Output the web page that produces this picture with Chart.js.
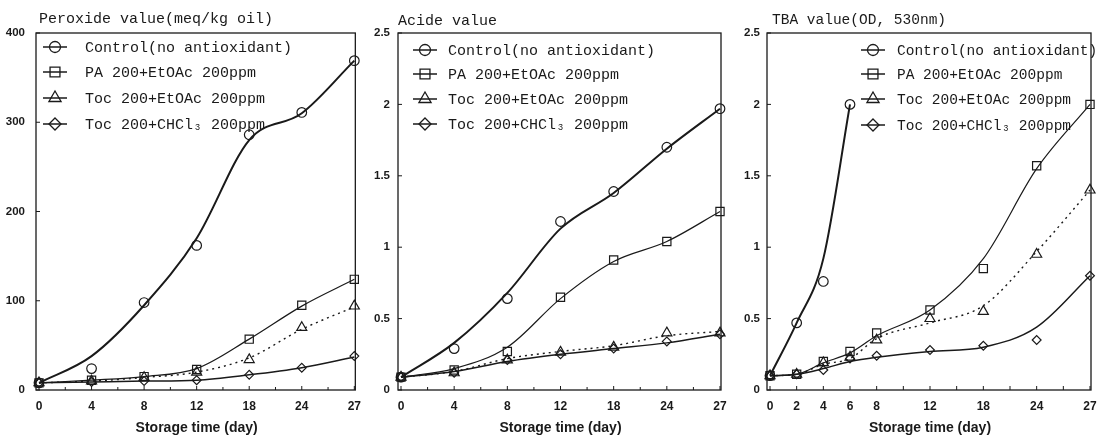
<!DOCTYPE html>
<html><head><meta charset="utf-8">
<style>
html,body{margin:0;padding:0;background:#fff;width:1109px;height:435px;overflow:hidden}
canvas{position:absolute;top:0}
</style>
<script src="https://cdn.jsdelivr.net/npm/chart.js@4.4.1/dist/chart.umd.min.js"></script>
</head><body>
<canvas id="c1" width="370" height="435" style="left:0px"></canvas>
<canvas id="c2" width="370" height="435" style="left:370px"></canvas>
<canvas id="c3" width="369" height="435" style="left:740px"></canvas>
<script>
// ---------- data ----------
const seriesNames = ['Control(no antioxidant)', 'PA 200+EtOAc 200ppm', 'Toc 200+EtOAc 200ppm', 'Toc 200+CHCl\u2083 200ppm'];
const xTitle = 'Storage time (day)';

// Panel 1: Peroxide value
const pvTitle = 'Peroxide value(meq/kg oil)';
const pvTickLabels = ['0','4','8','12','18','24','27'];
const pvDays = [0,4,8,12,18,24,27];
const pvControl    = [8,24,98,162,286,311,369];
const pvControlFit = [8,38,95,170,280,310,369];
const pvPA         = [8,11,15,23,57,95,124];
const pvPAFit      = [8,11,15,24,57,94,124];
const pvTocE       = [8,10,14,20,34,70,94];
const pvTocEFit    = [8,10,14,20,36,68,93];
const pvTocC       = [8,9,10,11,17,25,38];
const pvTocCFit    = [8,9,10,11,17,25,37];

// Panel 2: Acide value
const avTitle = 'Acide value';
const avTickLabels = ['0','4','8','12','18','24','27'];
const avDays = [0,4,8,12,18,24,27];
const avControl    = [0.09,0.29,0.64,1.18,1.39,1.70,1.97];
const avControlFit = [0.09,0.33,0.68,1.13,1.38,1.69,1.97];
const avPA         = [0.09,0.14,0.27,0.65,0.91,1.04,1.25];
const avPAFit      = [0.09,0.15,0.30,0.64,0.90,1.04,1.25];
const avTocE       = [0.09,0.12,0.21,0.265,0.30,0.40,0.40];
const avTocEFit    = [0.09,0.13,0.22,0.27,0.31,0.38,0.41];
const avTocC       = [0.09,0.12,0.21,0.25,0.29,0.34,0.39];
const avTocCFit    = [0.09,0.13,0.20,0.25,0.29,0.33,0.39];

// Panel 3: TBA value
const tbaTitle = 'TBA value(OD, 530nm)';
const tbaTickLabels = ['0','2','4','6','8','','12','','18','','24','','27'];
const tbaDays = [0,2,4,6,8,12,18,24,27];
const tbaControlDays = [0,2,4,6];
const tbaControl    = [0.10,0.47,0.76,2.00];
const tbaControlFit = [0.10,0.47,0.92,2.00];
const tbaPA         = [0.10,0.11,0.20,0.27,0.40,0.56,0.85,1.57,2.00];
const tbaPAFit      = [0.10,0.11,0.19,0.26,0.38,0.56,0.92,1.55,2.00];
const tbaTocE       = [0.10,0.11,0.19,0.23,0.35,0.50,0.55,0.95,1.40];
const tbaTocEFit    = [0.10,0.11,0.18,0.22,0.36,0.47,0.59,0.97,1.40];
const tbaTocC       = [0.10,0.11,0.14,0.22,0.24,0.28,0.31,0.35,0.80];
const tbaTocCFit    = [0.10,0.11,0.15,0.20,0.23,0.27,0.30,0.44,0.80];

// ---------- styling ----------
const ink = '#1a1a1a';
const styles = [
  {ps:'circle',   r:4.8, lr:5.5, lw:2.0, dash:[]},
  {ps:'rect',     r:5.8, lr:7.0, lw:1.2, dash:[]},
  {ps:'triangle', r:5.8, lr:7.0, lw:1.4, dash:[2,4]},
  {ps:'rectRot',  r:4.4, lr:6.0, lw:1.5, dash:[]}
];

function pts(days, vals){ return days.map((d,i)=>({x:String(d), y:vals[i]})); }

function buildDatasets(series){
  const ds = [];
  series.forEach((s,k)=>{
    const st = styles[k];
    ds.push({data:pts(s.days,s.fit), borderColor:ink, borderWidth:st.lw, borderDash:st.dash,
      pointRadius:0, pointHoverRadius:0, cubicInterpolationMode:'monotone', fill:false, clip:10});
    ds.push({data:pts(s.days,s.marks), showLine:false, pointStyle:st.ps, pointRadius:st.r,
      pointBorderWidth:1.2, pointBorderColor:ink, pointBackgroundColor:'rgba(255,255,255,0)', clip:10});
  });
  return ds;
}

function drawMarker(ctx, ps, x, y, r){
  ctx.beginPath();
  if (ps==='circle') ctx.arc(x,y,r,0,Math.PI*2);
  else if (ps==='rect'){ const s=r*Math.SQRT1_2; ctx.rect(x-s,y-s,2*s,2*s); }
  else if (ps==='triangle'){ ctx.moveTo(x,y-r); ctx.lineTo(x+r*0.866,y+r*0.5); ctx.lineTo(x-r*0.866,y+r*0.5); ctx.closePath(); }
  else { ctx.moveTo(x,y-r); ctx.lineTo(x+r,y); ctx.lineTo(x,y+r); ctx.lineTo(x-r,y); ctx.closePath(); }
  ctx.stroke();
}

function decorPlugin(p){
  return {
    id:'decor',
    afterDraw(chart){
      const ctx = chart.ctx, a = chart.chartArea;
      const xs = chart.scales.x, ys = chart.scales.y;
      ctx.save();
      ctx.strokeStyle = ink; ctx.fillStyle = ink;
      // frame
      ctx.lineWidth = 1.3;
      ctx.strokeRect(a.left - 3, a.top, a.right + 1 - (a.left - 3), a.bottom - a.top);
      // inside ticks x
      ctx.lineWidth = 1;
      const n = chart.data.labels.length;
      for (let i=0;i<n;i++){
        const px = xs.getPixelForValue(i);
        ctx.beginPath(); ctx.moveTo(px, a.bottom); ctx.lineTo(px, a.bottom-4); ctx.stroke();
        if (i<n-1 && p.mid){
          const mx = (px + xs.getPixelForValue(i+1))/2;
          ctx.beginPath(); ctx.moveTo(mx, a.bottom); ctx.lineTo(mx, a.bottom-3); ctx.stroke();
        }
      }
      ys.ticks.forEach(t=>{
        const py = ys.getPixelForValue(t.value);
        ctx.beginPath(); ctx.moveTo(a.left-3, py); ctx.lineTo(a.left+1, py); ctx.stroke();
      });
      // title
      ctx.font = p.titleFont;
      ctx.textBaseline = 'alphabetic'; ctx.textAlign = 'left';
      ctx.fillText(p.title, p.titleX, p.titleY);
      // legend
      ctx.font = p.legFont;
      ctx.textBaseline = 'middle';
      seriesNames.forEach((name,k)=>{
        const y = p.rows[k], st = styles[k];
        ctx.lineWidth = 1.5; ctx.setLineDash([]);
        ctx.beginPath(); ctx.moveTo(p.legX-12, y); ctx.lineTo(p.legX+12, y); ctx.stroke();
        ctx.lineWidth = 1.3;
        drawMarker(ctx, st.ps, p.legX, y, st.lr);
        ctx.fillText(name, p.textX, y+1);
      });
      ctx.restore();
    }
  };
}

function makeChart(id, p){
  const tickFontY = {family:'"Liberation Sans", Arial, sans-serif', size:11.5, weight:'bold'};
  const tickFontX = {family:'"Liberation Sans", Arial, sans-serif', size:12, weight:'bold'};
  return new Chart(document.getElementById(id), {
    type:'line',
    data:{labels:p.labels, datasets:buildDatasets(p.series)},
    options:{
      responsive:false, animation:false, devicePixelRatio:1,
      layout:{padding:{top:33, right:p.padRight, bottom:0, left:0}},
      plugins:{legend:{display:false}, tooltip:{enabled:false}},
      events:[],
      scales:{
        x:{type:'category', offset:false,
           grid:{display:false, drawTicks:false}, border:{display:false},
           ticks:{autoSkip:false, maxRotation:0, padding:9, color:ink, font:tickFontX},
           title:{display:true, text:xTitle, color:ink, padding:{top:0,bottom:0},
                  font:{family:'"Liberation Sans", Arial, sans-serif', size:14, weight:'bold', lineHeight:1.0}},
           afterFit(s){ s.height = 45; }},
        y:{min:0, max:p.yMax,
           grid:{display:false, drawTicks:false}, border:{display:false},
           ticks:{stepSize:p.step, padding:p.yPad, color:ink, font:tickFontY,
                  callback:(v)=>String(Number(Number(v).toFixed(2)))},
           afterFit(s){ s.width = p.yWidth; }}
      }
    },
    plugins:[decorPlugin(p)]
  });
}

makeChart('c1', {
  labels:pvTickLabels, yMax:400, step:100, padRight:13, yWidth:39, yPad:14, mid:true,
  series:[
    {days:pvDays, marks:pvControl, fit:pvControlFit},
    {days:pvDays, marks:pvPA, fit:pvPAFit},
    {days:pvDays, marks:pvTocE, fit:pvTocEFit},
    {days:pvDays, marks:pvTocC, fit:pvTocCFit}
  ],
  title:pvTitle, titleX:39, titleY:23, titleFont:'15px "Liberation Mono", monospace',
  legFont:'15px "Liberation Mono", monospace', legX:55, textX:85, rows:[47,72,98,124]
});

makeChart('c2', {
  labels:avTickLabels, yMax:2.5, step:0.5, padRight:20, yWidth:31, yPad:11, mid:true,
  series:[
    {days:avDays, marks:avControl, fit:avControlFit},
    {days:avDays, marks:avPA, fit:avPAFit},
    {days:avDays, marks:avTocE, fit:avTocEFit},
    {days:avDays, marks:avTocC, fit:avTocCFit}
  ],
  title:avTitle, titleX:28, titleY:25, titleFont:'15px "Liberation Mono", monospace',
  legFont:'15px "Liberation Mono", monospace', legX:55, textX:78, rows:[50,74,99,124]
});

makeChart('c3', {
  labels:tbaTickLabels, yMax:2.5, step:0.5, padRight:19, yWidth:30, yPad:10, mid:false,
  series:[
    {days:tbaControlDays, marks:tbaControl, fit:tbaControlFit},
    {days:tbaDays, marks:tbaPA, fit:tbaPAFit},
    {days:tbaDays, marks:tbaTocE, fit:tbaTocEFit},
    {days:tbaDays, marks:tbaTocC, fit:tbaTocCFit}
  ],
  title:tbaTitle, titleX:32, titleY:24, titleFont:'14.5px "Liberation Mono", monospace',
  legFont:'14.5px "Liberation Mono", monospace', legX:133, textX:157, rows:[50,74,99,125]
});
</script>
</body></html>
